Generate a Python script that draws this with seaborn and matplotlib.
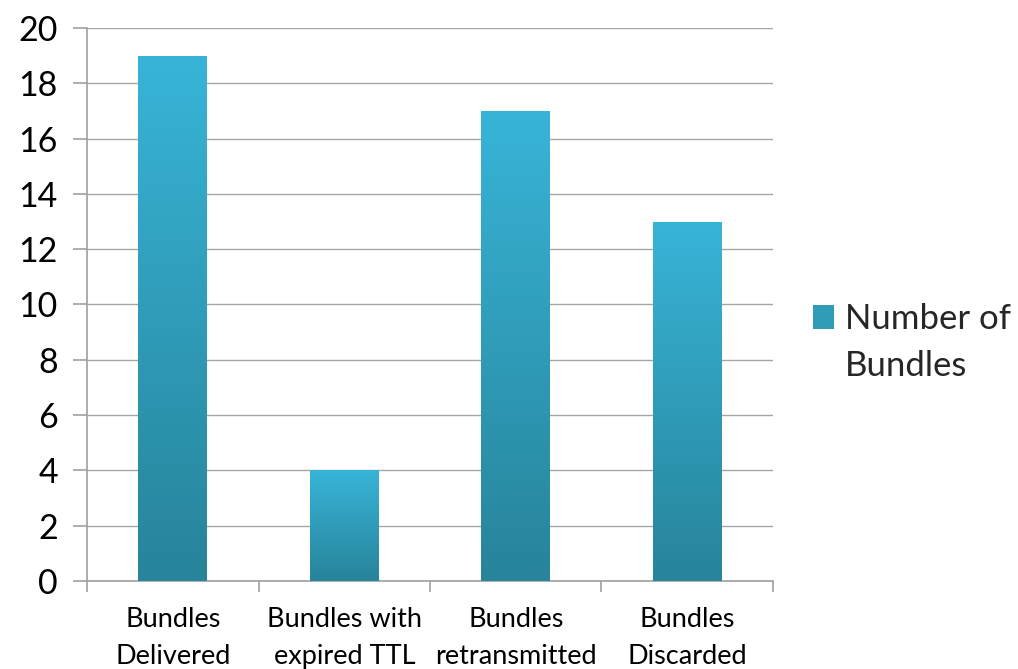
import numpy as np
import pandas as pd
import matplotlib
matplotlib.use("Agg")
import matplotlib.pyplot as plt
import seaborn as sns
from matplotlib.colors import LinearSegmentedColormap
from matplotlib.patches import Rectangle

categories = ["Bundles\nDelivered", "Bundles with\nexpired TTL", "Bundles\nretransmitted", "Bundles\nDiscarded"]
values = [19, 4, 17, 13]
series_name = "Number of\nBundles"
yticks = [0, 2, 4, 6, 8, 10, 12, 14, 16, 18, 20]

sns.set_theme(style="white")
plt.rcParams['font.family'] = ['Lato', 'DejaVu Sans']

df = pd.DataFrame({"category": categories, "value": values})

fig = plt.figure(figsize=(10.18, 6.69), dpi=100)
ax = fig.add_axes([0.0855, 0.1315, 0.6738, 0.8267])

top_col = "#38B4D8"
bot_col = "#27849A"
sns.barplot(data=df, x="category", y="value", color=top_col, width=0.4,
            ax=ax, saturation=1, zorder=3)

cmap = LinearSegmentedColormap.from_list("grad", [bot_col, top_col])
grad = np.linspace(0, 1, 256).reshape(-1, 1)
for p in ax.patches:
    x0, y0 = p.get_x(), p.get_y()
    w, h = p.get_width(), p.get_height()
    im = ax.imshow(grad, cmap=cmap, origin="lower", aspect="auto",
                   extent=[x0, x0 + w, y0, y0 + h], zorder=4)
    im.set_clip_path(p)
    p.set_edgecolor("none")

ax.set_xlim(-0.5, len(categories) - 0.5)
ax.set_ylim(0, 20)
ax.set_yticks(yticks)
ax.set_yticklabels([str(t) for t in yticks], fontsize=24.5)
ax.grid(axis="y", color="#A6A6A6", linewidth=1, zorder=0)
ax.set_axisbelow(True)

for s in ["top", "right"]:
    ax.spines[s].set_visible(False)
for s in ["left", "bottom"]:
    ax.spines[s].set_color("#A0A0A0")
    ax.spines[s].set_linewidth(1.2)

ax.tick_params(axis="y", which="major", length=10, color="#A0A0A0", width=1.2,
               direction="out", left=True, pad=11, labelcolor="black")
ax.set_xticks(np.arange(len(categories)))
ax.set_xticklabels(categories, fontsize=19.5, linespacing=1.6)
ax.tick_params(axis="x", which="major", length=0, pad=19, labelcolor="black")
ax.set_xticks(np.arange(len(categories) + 1) - 0.5, minor=True)
ax.tick_params(axis="x", which="minor", length=8, color="#A0A0A0", width=1.2,
               direction="out", bottom=True)
ax.set_xlabel("")
ax.set_ylabel("")

name_lines = series_name.split("\n")
handle = Rectangle((0, 0), 1, 1, facecolor="#2F9DB8", edgecolor="none")
leg = fig.legend([handle], [name_lines[0]], loc="center left",
                 bbox_to_anchor=(0.7985, 0.523), frameon=False, fontsize=25,
                 handlelength=0.62, handleheight=0.66, handletextpad=0.3,
                 borderaxespad=0, borderpad=0)
fig.canvas.draw()
tb = leg.get_texts()[0].get_window_extent()
fig.text(tb.x0 / fig.bbox.width, (tb.y0 - 47) / fig.bbox.height,
         "\n".join(name_lines[1:]), fontsize=25, ha="left", va="bottom")

fig.savefig("out.png", dpi=100, facecolor="white")
